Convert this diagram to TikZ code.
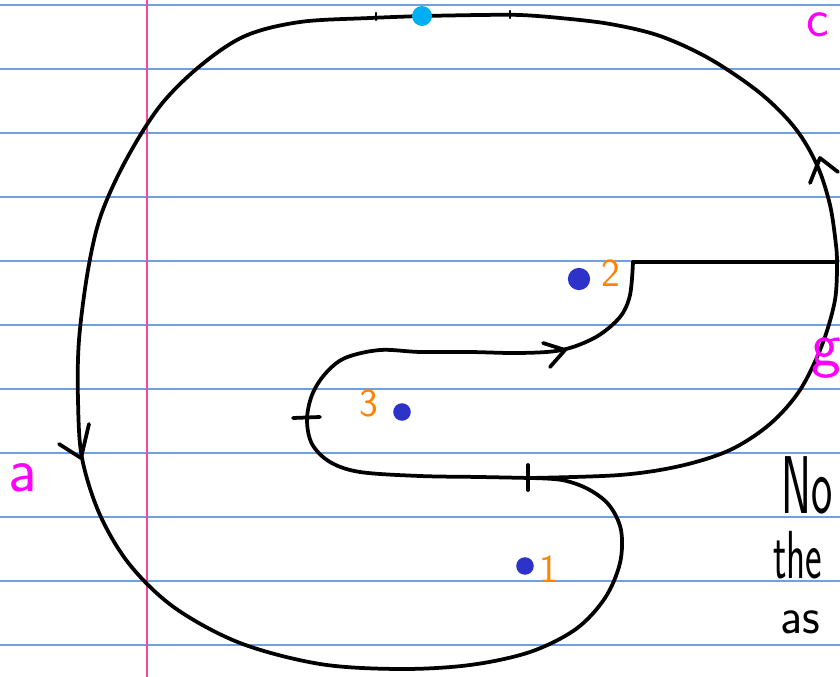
\documentclass[tikz,border=0pt]{standalone}
\usepackage{xcolor}
\usetikzlibrary{calc}
\definecolor{ruleblue}{RGB}{110,160,230}
\definecolor{marginpink}{RGB}{250,70,160}
\definecolor{labelmag}{RGB}{255,0,255}
\definecolor{numorange}{RGB}{255,130,0}
\definecolor{dotblue}{RGB}{45,50,200}
\definecolor{dotcyan}{RGB}{0,175,240}

\tikzset{
  ruleline/.style={ruleblue, line width=1.2pt},
  marginline/.style={marginpink, line width=1.3pt},
  curve/.style={line width=3.2pt, black, line cap=round, line join=round},
  pt/.style={circle, fill=#1, inner sep=0pt, minimum size=17pt},
  maglabel/.style={text=labelmag, font=\sffamily\fontsize{54}{58}\selectfont, inner sep=0pt},
  numlabel/.style={text=numorange, font=\sffamily\fontsize{34}{38}\selectfont, inner sep=0pt},
  note/.style={font=\sffamily\fontsize{#1}{#1}\selectfont, inner sep=0pt, anchor=base west}
}

\begin{document}
\begin{tikzpicture}[x=0.03cm, y=-0.03cm]
            % Page
            \useasboundingbox (0,0) rectangle (840,677);
            \clip (0,0) rectangle (840,677);
            \fill[white] (0,0) rectangle (840,677);
            \foreach \y in {5,69,...,645}
                \draw[ruleline] (0,\y) -- (840,\y);
            \draw[marginline] (147,0) -- (147,677);

            % Junctions
            \coordinate (top) at (422,16);
            \coordinate (J) at (837,262);
            \coordinate (K) at (530,478);
            \coordinate (H) at (633,262);

            % Left and bottom arc
            \draw[curve] plot[smooth, tension=0.55] coordinates {(top) (370,18) (300,22) (245,36) (200,66) (160,106) (126,160) (101,215) (88,270) (79,340) (78,400) (82,458) (100,515) (130,565) (175,608) (240,643) (320,664) (400,669) (470,665) (530,652) (576,629) (605,598) (620,563) (621,530) (609,505) (588,489) (562,480) (K)};

            % Top right arc
            \draw[curve] plot[smooth, tension=0.55] coordinates {(top) (480,15) (520,15) (560,18) (610,24) (660,36) (710,59) (760,93) (795,128) (817,165) (830,205) (836,245) (J)};

            % Lower right arc
            \draw[curve] plot[smooth, tension=0.55] coordinates {(J) (835,300) (822,345) (800,390) (770,424) (730,450) (680,466) (620,475) (K)};

            % Inner loop
            \draw[curve] plot[smooth, tension=0.55] coordinates {(K) (480,477) (420,476) (360,472) (330,462) (312,444) (307,420) (312,395) (325,374) (345,358) (380,350) (420,352) (470,352) (520,353) (562,350) (596,337) (620,317) (630,295) (H)};
            \draw[curve] (H) -- (J);

            % Arrows
            \coordinate (aL) at (81,458);
            \draw[curve] (59,444) -- (aL) -- (89,424);
            \coordinate (aM) at (565,350);
            \draw[curve] (543,343) -- (aM) -- (550,367);
            \coordinate (aR) at (820,158);
            \draw[curve] (810,183) -- (aR) -- (838,172);

            % Ticks
            \draw[curve] (293,418) -- (320,417);
            \draw[curve] (528,465) -- (528,490);
            \draw[curve, line width=2pt] (376,13) -- (376,20);
            \draw[curve, line width=2pt] (510,11) -- (510,18);

            % Points
            \node[pt=dotcyan] (q) at (top) {};
            \node[pt=dotblue, minimum size=19pt] (p2) at (579,279) {};
            \node[pt=dotblue, minimum size=15pt] (p3) at (402,412) {};
            \node[pt=dotblue, minimum size=15pt] (p1) at (525,566) {};

            % Labels
            \node[numlabel] (n2) at (611,273) {2};
            \node[numlabel] (n3) at (369,403) {3};
            \node[numlabel] (n1) at (549,569) {1};
            \node[maglabel] (la) at (23,478) {a};
            \node[maglabel, font=\sffamily\fontsize{46}{50}\selectfont] (lc) at (818,25) {c};
            \node[maglabel] (lg) at (826,358) {g};

            % Notes
            \node[note=70] (t1) at (781,513) {\scalebox{0.55}[1]{No}};
            \node[note=58] (t2) at (773,578) {\scalebox{0.58}[1]{the}};
            \node[note=44] (t3) at (780,633) {\scalebox{0.95}[1]{as}};
        \end{tikzpicture}
\end{document}
